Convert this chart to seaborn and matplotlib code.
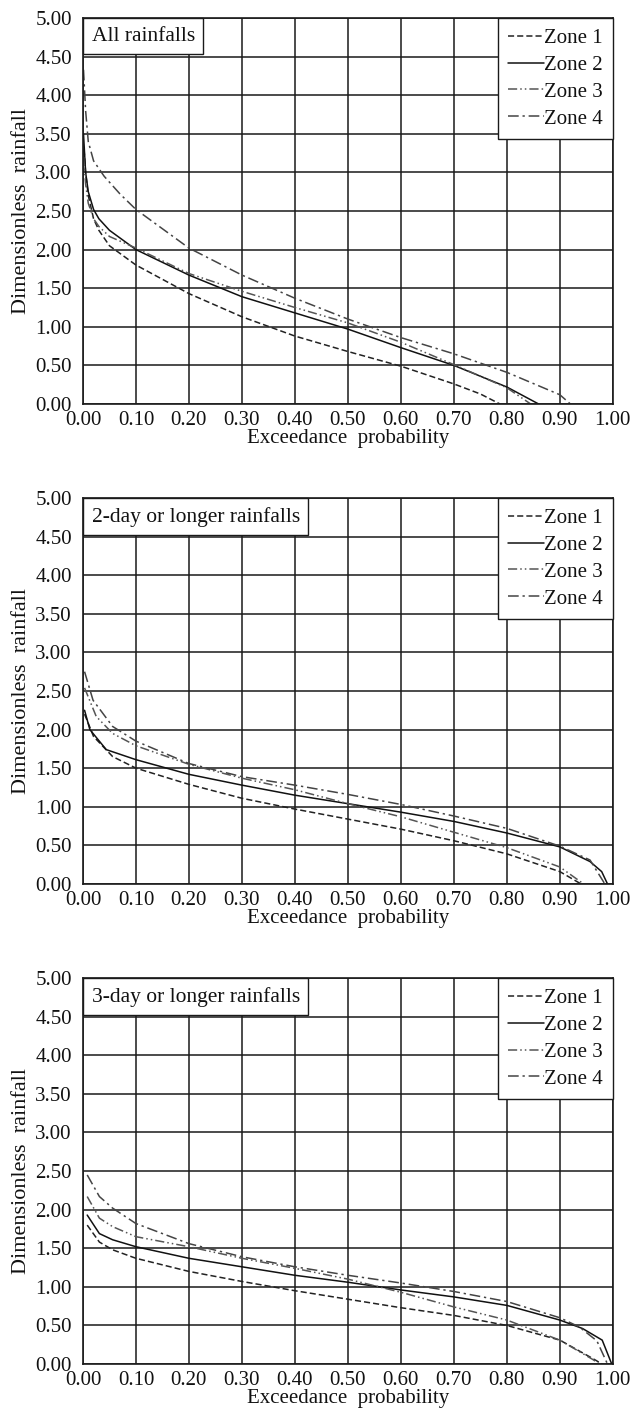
import numpy as np
import pandas as pd
import matplotlib
matplotlib.use("Agg")
import matplotlib.pyplot as plt
import seaborn as sns
from matplotlib.offsetbox import AnchoredText
from matplotlib.ticker import FormatStrFormatter, MultipleLocator

# values (exceedance probability, dimensionless rainfall)
zones = ["Zone 1", "Zone 2", "Zone 3", "Zone 4"]
panel_titles = ["All rainfalls", "2-day or longer rainfalls", "3-day or longer rainfalls"]

# All rainfalls
all_z1_p = [0.002, 0.005, 0.01, 0.02, 0.03, 0.05, 0.1, 0.2, 0.3, 0.4, 0.5, 0.6, 0.7, 0.75, 0.787]
all_z1_v = [3.30, 3.00, 2.70, 2.40, 2.25, 2.05, 1.80, 1.43, 1.13, 0.88, 0.68, 0.49, 0.26, 0.13, 0.00]
all_z2_p = [0.001, 0.005, 0.01, 0.02, 0.03, 0.05, 0.1, 0.2, 0.3, 0.4, 0.5, 0.6, 0.7, 0.8, 0.86]
all_z2_v = [3.50, 3.00, 2.75, 2.52, 2.40, 2.25, 2.00, 1.67, 1.39, 1.18, 0.97, 0.73, 0.50, 0.22, 0.00]
all_z3_p = [0.001, 0.005, 0.01, 0.02, 0.03, 0.05, 0.1, 0.2, 0.3, 0.4, 0.5, 0.6, 0.7, 0.8, 0.845]
all_z3_v = [3.20, 2.85, 2.60, 2.40, 2.30, 2.17, 2.02, 1.69, 1.46, 1.25, 1.05, 0.80, 0.51, 0.21, 0.00]
all_z4_p = [0.001, 0.005, 0.01, 0.02, 0.04, 0.07, 0.1, 0.2, 0.3, 0.4, 0.5, 0.6, 0.7, 0.8, 0.9, 0.92]
all_z4_v = [4.33, 3.80, 3.40, 3.15, 2.95, 2.72, 2.52, 2.02, 1.67, 1.37, 1.10, 0.86, 0.65, 0.41, 0.12, 0.00]

# 2-day or longer rainfalls
d2_z1_p = [0.003, 0.02, 0.056, 0.1, 0.2, 0.3, 0.4, 0.5, 0.6, 0.7, 0.8, 0.9, 0.94]
d2_z1_v = [2.20, 1.91, 1.65, 1.50, 1.29, 1.11, 0.97, 0.84, 0.71, 0.56, 0.39, 0.16, 0.00]
d2_z2_p = [0.003, 0.013, 0.044, 0.1, 0.2, 0.3, 0.4, 0.5, 0.6, 0.7, 0.8, 0.9, 0.957, 0.979, 0.99]
d2_z2_v = [2.25, 2.00, 1.74, 1.61, 1.42, 1.28, 1.15, 1.04, 0.93, 0.81, 0.66, 0.48, 0.29, 0.16, 0.00]
d2_z3_p = [0.003, 0.025, 0.056, 0.1, 0.2, 0.3, 0.4, 0.5, 0.6, 0.7, 0.8, 0.9, 0.945]
d2_z3_v = [2.54, 2.17, 1.95, 1.79, 1.55, 1.37, 1.22, 1.04, 0.87, 0.67, 0.47, 0.22, 0.00]
d2_z4_p = [0.003, 0.019, 0.056, 0.1, 0.2, 0.3, 0.4, 0.5, 0.6, 0.7, 0.8, 0.9, 0.957, 0.985]
d2_z4_v = [2.75, 2.38, 2.04, 1.85, 1.56, 1.39, 1.28, 1.16, 1.03, 0.88, 0.72, 0.49, 0.31, 0.00]

# 3-day or longer rainfalls
d3_z1_p = [0.008, 0.031, 0.056, 0.1, 0.2, 0.3, 0.4, 0.5, 0.6, 0.7, 0.8, 0.9, 0.96, 0.98]
d3_z1_v = [1.80, 1.58, 1.48, 1.37, 1.20, 1.07, 0.95, 0.84, 0.73, 0.63, 0.50, 0.31, 0.08, 0.00]
d3_z2_p = [0.008, 0.031, 0.056, 0.1, 0.2, 0.3, 0.4, 0.5, 0.6, 0.7, 0.8, 0.9, 0.943, 0.98, 0.998]
d3_z2_v = [1.93, 1.69, 1.61, 1.52, 1.37, 1.26, 1.15, 1.06, 0.96, 0.87, 0.76, 0.57, 0.46, 0.31, 0.00]
d3_z3_p = [0.008, 0.031, 0.056, 0.1, 0.2, 0.3, 0.4, 0.5, 0.6, 0.7, 0.8, 0.9, 0.962, 0.975]
d3_z3_v = [2.17, 1.89, 1.78, 1.65, 1.52, 1.37, 1.24, 1.10, 0.93, 0.74, 0.57, 0.31, 0.06, 0.00]
d3_z4_p = [0.008, 0.031, 0.056, 0.1, 0.2, 0.3, 0.4, 0.5, 0.6, 0.7, 0.8, 0.9, 0.937, 0.97, 0.99]
d3_z4_v = [2.45, 2.17, 2.02, 1.82, 1.56, 1.39, 1.26, 1.15, 1.05, 0.94, 0.81, 0.60, 0.48, 0.30, 0.00]

panels = [
    [(all_z1_p, all_z1_v), (all_z2_p, all_z2_v), (all_z3_p, all_z3_v), (all_z4_p, all_z4_v)],
    [(d2_z1_p, d2_z1_v), (d2_z2_p, d2_z2_v), (d2_z3_p, d2_z3_v), (d2_z4_p, d2_z4_v)],
    [(d3_z1_p, d3_z1_v), (d3_z2_p, d3_z2_v), (d3_z3_p, d3_z3_v), (d3_z4_p, d3_z4_v)],
]

sns.set_theme(style="white")
plt.rcParams["font.family"] = ["Liberation Serif", "DejaVu Serif"]

line_dashes = {"Zone 1": (4, 2), "Zone 2": "", "Zone 3": (6, 2, 1, 2, 1, 2), "Zone 4": (7, 2.5, 1.5, 2.5)}
line_colors = {"Zone 1": "#222222", "Zone 2": "#111111", "Zone 3": "#555555", "Zone 4": "#444444"}

fs = 15
fig = plt.figure(figsize=(6.3, 14.2), dpi=100)
bottoms = [0.7155, 0.3775, 0.0394]

for i, title in enumerate(panel_titles):
    ax = fig.add_axes([0.1317, bottoms[i], 0.841, 0.2718])
    rows = []
    for zone, (p, v) in zip(zones, panels[i]):
        for pp, vv in zip(p, v):
            rows.append({"p": pp, "v": vv, "zone": zone})
    df = pd.DataFrame(rows)
    sns.lineplot(data=df, x="p", y="v", hue="zone", style="zone", palette=line_colors,
                 dashes=line_dashes, estimator=None, sort=True, linewidth=1.1, ax=ax)

    ax.set_xlim(0, 1)
    ax.set_ylim(0, 5)
    ax.xaxis.set_major_locator(MultipleLocator(0.1))
    ax.yaxis.set_major_locator(MultipleLocator(0.5))
    ax.xaxis.set_major_formatter(FormatStrFormatter("%.2f"))
    ax.yaxis.set_major_formatter(FormatStrFormatter("%.2f"))
    ax.grid(True, color="#1a1a1a", linewidth=1.1)
    ax.set_axisbelow(True)
    for s in ax.spines.values():
        s.set_color("#1a1a1a")
        s.set_linewidth(1.2)
    ax.tick_params(length=0, labelsize=fs, colors="#111111")
    ax.tick_params(axis="y", pad=8)
    ax.tick_params(axis="x", pad=5)
    ax.set_xlabel("Exceedance  probability", fontsize=fs, labelpad=-1, color="#111111")
    ax.set_ylabel("Dimensionless  rainfall", fontsize=fs + 1, labelpad=3, color="#111111")

    at = AnchoredText(title, loc="upper left", frameon=True, borderpad=0, pad=0.4,
                      prop=dict(size=fs + 0.5, color="#111111"))
    at.patch.set_edgecolor("#1a1a1a")
    at.patch.set_linewidth(1.0)
    at.patch.set_boxstyle("square,pad=0")
    ax.add_artist(at)

    handles, labels = ax.get_legend_handles_labels()
    leg = ax.legend(handles, labels, loc="upper right", frameon=True, fancybox=False,
                    borderaxespad=0, fontsize=fs, handlelength=1.7, handletextpad=0.0,
                    labelspacing=0.35, borderpad=0.5, framealpha=1)
    leg.get_frame().set_edgecolor("#1a1a1a")
    leg.get_frame().set_linewidth(1.0)
    for t in leg.get_texts():
        t.set_color("#111111")

fig.savefig("out.png", dpi=100)
